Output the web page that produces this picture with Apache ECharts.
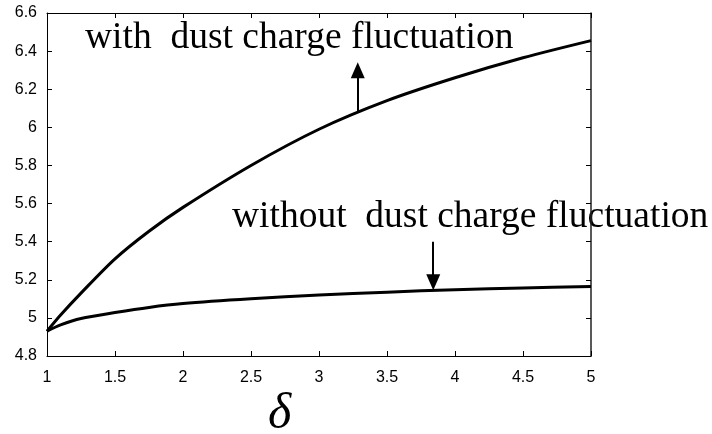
<!DOCTYPE html>
<html>
<head>
<meta charset="utf-8">
<script src="https://cdn.jsdelivr.net/npm/echarts@6/dist/echarts.min.js"></script>
<style>html,body{margin:0;padding:0;background:#fff}#c{width:712px;height:434px}</style>
</head>
<body>
<div id="c"></div>
<script>
var delta = [1, 1.1, 1.25, 1.5, 1.75, 2, 2.5, 3, 3.5, 4, 4.5, 5];
var withFluct = [4.93, 5.015, 5.13, 5.31, 5.455, 5.58, 5.80, 5.99, 6.14, 6.26, 6.365, 6.455];
var withoutFluct = [4.93, 4.963, 4.997, 5.028, 5.055, 5.075, 5.10, 5.12, 5.135, 5.148, 5.157, 5.165];
var xTicks = {min: 1, max: 5, interval: 0.5};
var yTicks = {min: 4.8, max: 6.6, interval: 0.2};
var labelWith = 'with  dust charge fluctuation';
var labelWithout = 'without  dust charge fluctuation';
var xName = 'δ';

function pairs(xs, ys) { return xs.map(function (x, i) { return [x, ys[i]]; }); }

var chart = echarts.init(document.getElementById('c'));
var axisCommon = {
  type: 'value',
  axisLine: {show: true, lineStyle: {color: '#000', width: 1}},
  axisTick: {show: true, inside: true, length: 5, lineStyle: {color: '#000'}},
  splitLine: {show: false}
};
var lab = {color: '#000', fontFamily: 'Liberation Sans, Arial, sans-serif', fontSize: 16};
chart.setOption({
  animation: false,
  backgroundColor: '#fff',
  grid: {left: 47, right: 121, top: 13, bottom: 78},
  xAxis: [
    Object.assign({}, axisCommon, xTicks, {position: 'bottom', axisLabel: Object.assign({margin: 14}, lab)}),
    Object.assign({}, axisCommon, xTicks, {position: 'top', axisLabel: {show: false}})
  ],
  yAxis: [
    Object.assign({}, axisCommon, yTicks, {position: 'left', axisLabel: Object.assign({margin: 10}, lab)}),
    Object.assign({}, axisCommon, yTicks, {position: 'right', axisLabel: {show: false},
      axisLine: {show: true, lineStyle: {color: '#222', width: 1.5}}})
  ],
  series: [
    {
      type: 'line', data: pairs(delta, withFluct), smooth: 0.3, showSymbol: false,
      lineStyle: {color: '#000', width: 3}, silent: true,
      markLine: {
        silent: true, symbol: ['none', 'triangle'], symbolSize: [14, 16],
        label: {show: false},
        lineStyle: {color: '#000', width: 2, type: 'solid'},
        data: [
          [{coord: [3.285, 6.086]}, {coord: [3.285, 6.30]}],
          [{coord: [3.84, 5.40]}, {coord: [3.84, 5.187]}]
        ]
      }
    },
    {
      type: 'line', data: pairs(delta, withoutFluct), smooth: 0.3, showSymbol: false,
      lineStyle: {color: '#000', width: 3}, silent: true
    }
  ],
  graphic: [
    {type: 'text', left: 85, top: 19, style: {text: labelWith, font: '37.5px "Liberation Serif", "Times New Roman", serif', fill: '#000'}},
    {type: 'text', left: 232, top: 198, style: {text: labelWithout, font: '37.5px "Liberation Serif", "Times New Roman", serif', fill: '#000'}},
    {type: 'text', left: 268, top: 390, style: {text: xName, font: 'italic 50px "Liberation Serif", "Times New Roman", serif', fill: '#000'}}
  ]
});
</script>
</body>
</html>
